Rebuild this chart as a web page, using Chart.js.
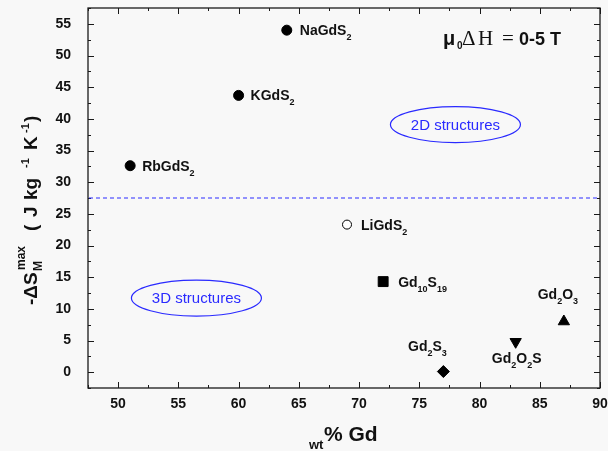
<!DOCTYPE html>
<html>
<head>
<meta charset="utf-8">
<script src="https://cdn.jsdelivr.net/npm/chart.js@4.4.1/dist/chart.umd.min.js"></script>
<style>
  html, body { margin: 0; padding: 0; background: #f8f8f8; }
  #wrap { width: 608px; height: 451px; }
</style>
</head>
<body>
<div id="wrap"><canvas id="gdChart" width="608" height="451"></canvas></div>
<script>
// Data
const compounds = ['NaGdS2', 'KGdS2', 'RbGdS2', 'LiGdS2', 'Gd10S19', 'Gd2O3', 'Gd2O2S', 'Gd2S3'];
const gdWtPct = [64, 60, 51, 69, 72, 87, 83, 77];
const dsMax = [54.0, 43.7, 32.6, 23.3, 14.3, 8.0, 4.8, 0.1];
const dividerLevel = 27.5;

const xTickLabels = [50, 55, 60, 65, 70, 75, 80, 85, 90];
const yTickLabels = [0, 5, 10, 15, 20, 25, 30, 35, 40, 45, 50, 55];

// marker look per compound
const markerShape = ['circle', 'circle', 'circle', 'circle', 'rect', 'triangle', 'triangle', 'rectRot'];
const markerRotation = [0, 0, 0, 0, 0, 0, 180, 0];
const markerSize = [5, 5, 5, 4.5, 7, 6.5, 6.5, 6];
const markerFill = ['#000', '#000', '#000', '#fff', '#000', '#000', '#000', '#000'];

// where each formula label sits relative to its marker (px)
const labelPlace = [
  { dx: 13, dy: 0, align: 'left' },
  { dx: 12, dy: 0, align: 'left' },
  { dx: 12, dy: 0, align: 'left' },
  { dx: 14, dy: 0, align: 'left' },
  { dx: 15, dy: 0, align: 'left' },
  { dx: -6, dy: -28, align: 'center' },
  { dx: 1, dy: 16, align: 'center' },
  { dx: -16, dy: -26, align: 'center' }
];

// blue ellipse notes, anchored in data units
const regions = [
  { text: '2D structures', x: 78, y: 39.1 },
  { text: '3D structures', x: 56.5, y: 11.7 }
];

const SANS = '"Liberation Sans", Arial, sans-serif';
const SERIF = '"Liberation Serif", "Times New Roman", serif';
const BLUE = '#2a2aff';

function drawFormula(ctx, text, x, y, align) {
  const parts = text.match(/\d+|\D+/g);
  const mainFont = 'bold 14px ' + SANS;
  const subFont = 'bold 9px ' + SANS;
  let w = 0;
  parts.forEach(p => {
    ctx.font = /\d/.test(p) ? subFont : mainFont;
    w += ctx.measureText(p).width;
  });
  let cx = align === 'center' ? x - w / 2 : x;
  ctx.textAlign = 'left';
  ctx.textBaseline = 'alphabetic';
  parts.forEach(p => {
    const sub = /\d/.test(p);
    ctx.font = sub ? subFont : mainFont;
    ctx.fillText(p, cx, y + (sub ? 5 : 0));
    cx += ctx.measureText(p).width;
  });
}

// run of text pieces: [text, font, shiftY, startOffset]
function drawRun(ctx, pieces, x, y) {
  let cx = x;
  pieces.forEach(([t, f, sy, at]) => {
    if (at !== undefined) cx = x + at;
    ctx.font = f;
    ctx.fillText(t, cx, y + sy);
    cx += ctx.measureText(t).width;
  });
}

const decorPlugin = {
  id: 'decor',
  beforeDraw(chart) {
    const c = chart.ctx;
    c.save();
    c.fillStyle = '#f8f8f8';
    c.fillRect(0, 0, chart.width, chart.height);
    c.restore();
  },
  beforeDatasetsDraw(chart) {
    const c = chart.ctx;
    const { left, right, top, bottom } = chart.chartArea;
    const xs = chart.scales.x, ys = chart.scales.y;
    c.save();

    // frame
    c.strokeStyle = '#1a1a1a';
    c.lineWidth = 1.3;
    c.strokeRect(left, top, right - left, bottom - top);

    // inward ticks on all four sides
    c.lineWidth = 1;
    c.beginPath();
    xs.ticks.forEach(t => {
      const px = Math.round(xs.getPixelForValue(t.value)) + 0.5;
      const len = xTickLabels.includes(t.value) ? 6 : 3;
      c.moveTo(px, bottom); c.lineTo(px, bottom - len);
      c.moveTo(px, top); c.lineTo(px, top + len);
    });
    ys.ticks.forEach(t => {
      const py = Math.round(ys.getPixelForValue(t.value)) + 0.5;
      const len = yTickLabels.includes(t.value) ? 6 : 3;
      c.moveTo(left, py); c.lineTo(left + len, py);
      c.moveTo(right, py); c.lineTo(right - len, py);
    });
    c.stroke();

    // dashed divider
    c.strokeStyle = BLUE;
    c.lineWidth = 1.2;
    c.setLineDash([4, 3]);
    const yd = ys.getPixelForValue(dividerLevel);
    c.beginPath();
    c.moveTo(left + 1, yd);
    c.lineTo(right - 1, yd);
    c.stroke();
    c.setLineDash([]);

    // ellipse notes
    regions.forEach(r => {
      const cx = xs.getPixelForValue(r.x), cy = ys.getPixelForValue(r.y);
      c.strokeStyle = BLUE;
      c.lineWidth = 1.2;
      c.beginPath();
      c.ellipse(cx, cy, 65, 18, 0, 0, Math.PI * 2);
      c.stroke();
      c.fillStyle = BLUE;
      c.font = '15px ' + SANS;
      c.textAlign = 'center';
      c.textBaseline = 'middle';
      c.fillText(r.text, cx, cy + 1);
    });
    c.restore();
  },
  afterDatasetsDraw(chart) {
    const c = chart.ctx;
    const meta = chart.getDatasetMeta(0);
    c.save();
    c.fillStyle = '#111';
    compounds.forEach((name, i) => {
      const el = meta.data[i];
      const p = labelPlace[i];
      drawFormula(c, name, el.x + p.dx, el.y + p.dy + 5, p.align);
    });

    // field label
    c.textAlign = 'left';
    c.textBaseline = 'alphabetic';
    drawRun(c, [
      ['\u03bc', 'bold 20px ' + SANS, 0, 0],
      ['0', 'bold 10px ' + SANS, 4, 14],
      ['\u0394', '21px ' + SERIF, 0, 19],
      ['H', '21px ' + SERIF, 0, 35],
      ['=', '21px ' + SERIF, 0, 59],
      ['0-5 T', 'bold 18px ' + SANS, 0, 76]
    ], 443, 45);

    // x title
    drawRun(c, [
      ['wt', 'bold 13px ' + SANS, 8],
      ['% Gd', 'bold 21px ' + SANS, 0, 15]
    ], 309, 441);

    // y title, rotated
    c.translate(37, 305);
    c.rotate(-Math.PI / 2);
    const big = 'bold 19px ' + SANS, small = 'bold 12px ' + SANS, sup = 'bold 11px ' + SANS;
    drawRun(c, [
      ['-\u0394S', big, 0, 0],
      ['M', small, 5, 34],
      ['max', small, -12, 35],
      ['(', big, 0, 74],
      ['J', big, 0, 88],
      ['kg', big, 0, 105],
      ['-1', sup, -8, 137],
      ['K', big, 0, 155],
      ['-1', sup, -8, 172],
      [')', big, 0, 183]
    ], 0, 0);
    c.restore();
  }
};

const ctx = document.getElementById('gdChart').getContext('2d');
const gdChart = new Chart(ctx, {
  type: 'scatter',
  data: {
    datasets: [{
      data: gdWtPct.map((v, i) => ({ x: v, y: dsMax[i] })),
      pointStyle: markerShape,
      rotation: markerRotation,
      pointRadius: markerSize,
      pointBackgroundColor: markerFill,
      pointBorderColor: '#000',
      pointBorderWidth: 1,
      showLine: false
    }]
  },
  options: {
    responsive: false,
    animation: false,
    layout: { padding: { top: 7, right: 0, left: 0, bottom: 0 } },
    plugins: { legend: { display: false }, tooltip: { enabled: false } },
    scales: {
      x: {
        type: 'linear',
        min: 47.5,
        max: 90,
        grid: { display: false },
        border: { display: false },
        ticks: {
          stepSize: 2.5,
          autoSkip: false,
          maxRotation: 0,
          padding: 0,
          color: '#111',
          font: { family: SANS, size: 14, weight: 'bold' },
          callback: v => xTickLabels.includes(v) ? v : ''
        },
        afterFit: s => { s.height = 63; }
      },
      y: {
        min: -2.5,
        max: 57.5,
        grid: { display: false },
        border: { display: false },
        ticks: {
          stepSize: 2.5,
          autoSkip: false,
          padding: 9,
          color: '#111',
          font: { family: SANS, size: 14, weight: 'bold' },
          callback: v => yTickLabels.includes(v) ? v : ''
        },
        afterFit: s => { s.width = 88; s.paddingTop = 0; s.paddingBottom = 0; }
      }
    }
  },
  plugins: [decorPlugin]
});
</script>
</body>
</html>
